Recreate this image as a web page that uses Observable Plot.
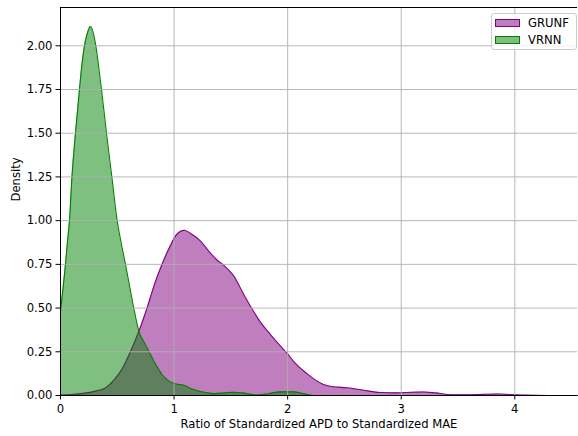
<!DOCTYPE html>
<html>
<head>
<meta charset="utf-8">
<script src="https://cdn.jsdelivr.net/npm/d3@7"></script>
<script src="https://cdn.jsdelivr.net/npm/@observablehq/plot@0.6"></script>
<style>
  html, body { margin: 0; padding: 0; background: #fff; }
  #wrap { position: relative; width: 578px; height: 436px; font-family: "DejaVu Sans", sans-serif; }
  #legend { position: absolute; left: 491px; top: 13px; width: 86px; height: 37px;
    background: rgba(255,255,255,0.8); border: 1px solid #cccccc; border-radius: 3px; box-sizing: border-box; }
  .row { position: absolute; left: 3px; height: 9px; font-size: 11.6px; color: #000; }
  .sw { position: absolute; left: 0; top: 0; width: 25px; height: 8px; box-sizing: border-box; border: 1px solid; }
  .lab { position: absolute; left: 33px; top: -3px; white-space: nowrap; line-height: 14px; }
</style>
</head>
<body>
<div id="wrap"><div id="legend"></div></div>
<script>
// Series names & colours
const series = ["GRUNF", "VRNN"];
const colors = ["purple", "green"];

// GRUNF density curve
const grunfX = [0, 0.1, 0.2, 0.31, 0.4, 0.48, 0.55, 0.616, 0.689, 0.762, 0.83, 0.894, 0.967, 1.026, 1.09, 1.15, 1.231, 1.3, 1.378, 1.437, 1.525, 1.613, 1.686, 1.76, 1.847, 1.92, 2.0, 2.05, 2.17, 2.23, 2.316, 2.4, 2.52, 2.668, 2.815, 2.95, 3.1, 3.2, 3.3, 3.45, 3.6, 3.84, 3.95, 4.075, 4.3, 4.552];
const grunfY = [0.003, 0.006, 0.012, 0.025, 0.045, 0.095, 0.16, 0.25, 0.365, 0.5, 0.64, 0.75, 0.856, 0.923, 0.945, 0.925, 0.884, 0.83, 0.775, 0.745, 0.684, 0.579, 0.496, 0.42, 0.35, 0.295, 0.238, 0.197, 0.125, 0.095, 0.063, 0.05, 0.044, 0.03, 0.017, 0.015, 0.019, 0.02, 0.015, 0.004, 0.004, 0.009, 0.006, 0.002, 0.0, 0.0];

// VRNN density curve
const vrnnX = [0, 0.02, 0.044, 0.06, 0.079, 0.101, 0.132, 0.167, 0.19, 0.211, 0.24, 0.264, 0.29, 0.311, 0.34, 0.361, 0.405, 0.452, 0.499, 0.535, 0.572, 0.61, 0.645, 0.689, 0.74, 0.792, 0.85, 0.894, 0.95, 1.0, 1.05, 1.085, 1.14, 1.2, 1.28, 1.35, 1.45, 1.525, 1.6, 1.73, 1.83, 1.935, 2.05, 2.13, 2.23, 2.4];
const vrnnY = [0.48, 0.6, 0.75, 0.87, 1.0, 1.25, 1.5, 1.75, 1.9, 2.0, 2.08, 2.11, 2.07, 2.0, 1.86, 1.75, 1.5, 1.25, 1.0, 0.87, 0.75, 0.62, 0.5, 0.37, 0.3, 0.235, 0.165, 0.12, 0.085, 0.069, 0.063, 0.059, 0.042, 0.029, 0.017, 0.011, 0.015, 0.019, 0.015, 0.003, 0.01, 0.021, 0.021, 0.012, 0.0, 0.0];

// Ticks
const xTicks = [0, 1, 2, 3, 4];
const yTicks = [0, 0.25, 0.5, 0.75, 1.0, 1.25, 1.5, 1.75, 2.0];
const xLabel = "Ratio of Standardized APD to Standardized MAE";
const yLabel = "Density";

const grunf = grunfX.map((x, i) => ({x, y: grunfY[i]}));
const vrnn = vrnnX.map((x, i) => ({x, y: vrnnY[i]}));

const xMax = 4.552, yMax = 2.219;

const chart = Plot.plot({
  width: 578,
  height: 436,
  marginLeft: 60,
  marginRight: 1,
  marginTop: 7,
  marginBottom: 41,
  style: {fontFamily: "DejaVu Sans", fontSize: "11.6px", color: "#000", background: "#fff"},
  x: {domain: [0, xMax], ticks: xTicks, tickFormat: d3.format("d"), tickSize: 4.5, tickPadding: 4.5, label: null},
  y: {domain: [0, yMax], ticks: yTicks, tickFormat: d3.format(".2f"), tickSize: 4.5, tickPadding: 3.5, label: null},
  marks: [
    Plot.areaY(grunf, {x: "x", y: "y", fill: colors[0], fillOpacity: 0.5, curve: "monotone-x"}),
    Plot.lineY(grunf, {x: "x", y: "y", stroke: colors[0], strokeWidth: 1.1, curve: "monotone-x"}),
    Plot.areaY(vrnn, {x: "x", y: "y", fill: colors[1], fillOpacity: 0.5, curve: "monotone-x"}),
    Plot.lineY(vrnn, {x: "x", y: "y", stroke: colors[1], strokeWidth: 1.1, curve: "monotone-x"}),
    Plot.ruleX(xTicks.filter(d => d > 0), {stroke: "#b0b0b0", strokeWidth: 0.9}),
    Plot.ruleY(yTicks.filter(d => d > 0), {stroke: "#b0b0b0", strokeWidth: 0.9}),
    Plot.ruleX([0], {stroke: "#000", strokeWidth: 1}),
    Plot.ruleY([0], {stroke: "#000", strokeWidth: 1}),
    Plot.ruleY([yMax], {stroke: "#000", strokeWidth: 1}),
    Plot.text([xLabel], {text: d => d, frameAnchor: "bottom", dy: 32.5, fontSize: 11.6}),
    Plot.text([yLabel], {text: d => d, frameAnchor: "left", dx: -44, rotate: -90, fontSize: 11.6})
  ]
});
document.getElementById("wrap").prepend(chart);
chart.style.position = "absolute";
chart.style.left = "0";
chart.style.top = "0";

// Legend
const legend = document.getElementById("legend");
const fills = ["rgba(128,0,128,0.5)", "rgba(0,128,0,0.5)"];
series.forEach((s, i) => {
  const row = document.createElement("div");
  row.className = "row";
  row.style.top = (5 + i * 17) + "px";
  const sw = document.createElement("div");
  sw.className = "sw";
  sw.style.background = fills[i];
  sw.style.borderColor = colors[i];
  const lab = document.createElement("div");
  lab.className = "lab";
  lab.textContent = s;
  row.appendChild(sw);
  row.appendChild(lab);
  legend.appendChild(row);
});
</script>
</body>
</html>
